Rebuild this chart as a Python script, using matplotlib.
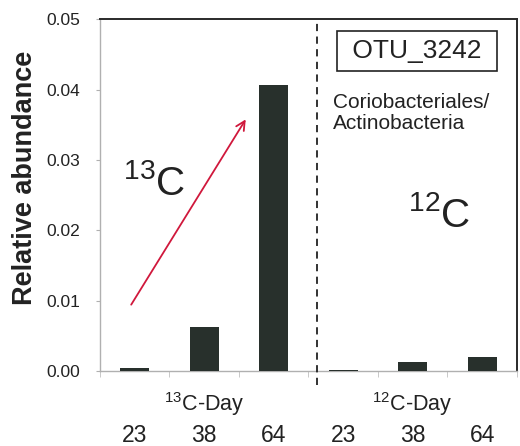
import matplotlib
matplotlib.use("Agg")
import matplotlib.pyplot as plt

plt.rcParams['font.family'] = ['Liberation Sans', 'DejaVu Sans']
plt.rcParams['mathtext.fontset'] = 'custom'
plt.rcParams['mathtext.rm'] = 'Liberation Sans'
plt.rcParams['mathtext.default'] = 'regular'

days = ["23", "38", "64", "23", "38", "64"]
groups = ["$^{13}$C-Day", "$^{12}$C-Day"]
values = [0.0005, 0.0062, 0.0407, 0.0002, 0.0013, 0.0020]
yticks = [0.00, 0.01, 0.02, 0.03, 0.04, 0.05]

fig = plt.figure(figsize=(5.2, 4.46), dpi=100)
ax = fig.add_axes([0.192, 0.168, 0.802, 0.789])

x = list(range(len(values)))
ax.bar(x, values, width=0.42, color='#28302c', zorder=3)

ax.set_xlim(-0.5, 5.5)
ax.set_ylim(0, 0.05)
ax.set_yticks(yticks)
ax.set_yticklabels([f"{v:.2f}" for v in yticks], fontsize=12.5, color='#222222')
ax.tick_params(axis='y', length=3, color='#b0b0b0', pad=11)

ax.set_xticks(x)
ax.set_xticklabels(days, fontsize=16.5, color='#222222')
ax.tick_params(axis='x', which='major', length=0, pad=38)
ax.set_xticks([i + 0.5 for i in range(-1, 6)], minor=True)
ax.tick_params(axis='x', which='minor', length=4, color='#c0c0c0')

for s in ['left', 'bottom']:
    ax.spines[s].set_color('#b0b0b0')
    ax.spines[s].set_linewidth(1.0)
for s in ['top', 'right']:
    ax.spines[s].set_color('#2a2a2a')
    ax.spines[s].set_linewidth(1.4)

ax.set_ylabel("Relative abundance", fontsize=19.5, fontweight='bold', color='#222222')
ax.yaxis.set_label_coords(-0.148, 0.55)

# group labels
for gi, g in enumerate(groups):
    ax.text(1 + 3 * gi, -0.0047, g, ha='center', va='center', fontsize=15.5,
            color='#222222')

# dashed separator
ax.plot([2.62, 2.62], [-0.002, 0.05], ls=(0, (4, 3)), color='#222222', lw=1.3,
        clip_on=False, zorder=4)

# arrow
ax.annotate("", xy=(1.62, 0.0361), xytext=(-0.07, 0.0091),
            arrowprops=dict(arrowstyle='->', color='#d0183c', lw=1.3,
                            mutation_scale=16))

ax.text(-0.17, 0.0250, "$^{13}$C", fontsize=29, ha='left', va='baseline', color='#222222')
ax.text(3.93, 0.0205, "$^{12}$C", fontsize=29, ha='left', va='baseline', color='#222222')

ax.text(4.06, 0.0455, " OTU_3242 ", fontsize=19, ha='center', va='center', color='#222222',
        bbox=dict(boxstyle='square,pad=0.3', fc='white', ec='#222222', lw=1.2))
ax.text(2.85, 0.0395, "Coriobacteriales/\nActinobacteria", fontsize=15, ha='left',
        va='top', color='#222222', linespacing=1.1)

fig.savefig("out.png", dpi=100, facecolor='white')
